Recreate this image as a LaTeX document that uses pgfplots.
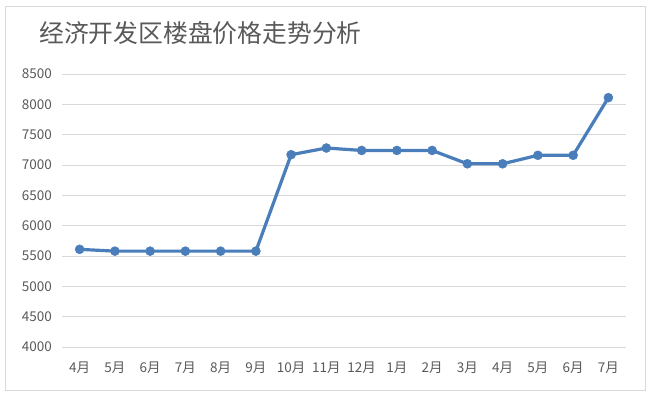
\documentclass[border=0pt]{standalone}
\usepackage{fontspec}
\setmainfont{Noto Sans CJK SC}
\usepackage{pgfplots}
\pgfplotsset{compat=1.18}
\definecolor{txt}{HTML}{595959}
\definecolor{gridc}{HTML}{D9D9D9}
\definecolor{linec}{HTML}{4A7EBB}
\begin{document}
\begin{tikzpicture}[x=1pt,y=1pt]
\useasboundingbox (0,0) rectangle (650,397);
\draw[gridc, line width=1pt] (5,7) rectangle (645,390);
\node[anchor=west, text=txt, font=\fontsize{24.8}{28}\selectfont, inner sep=0pt] at (39,364) {经济开发区楼盘价格走势分析};
\begin{axis}[
  at={(62pt,50pt)}, anchor=south west,
  scale only axis, width=564pt, height=273pt,
  xmin=-0.5, xmax=15.5, ymin=4000, ymax=8500,
  ytick={4000,4500,...,8500},
  xtick={0,...,15},
  xticklabels={4月,5月,6月,7月,8月,9月,10月,11月,12月,1月,2月,3月,4月,5月,6月,7月},
  axis line style={draw=none},
  major tick length=0pt,
  xmajorgrids=false,
  ymajorgrids=true,
  major grid style={draw=gridc, line width=1pt},
  /pgf/number format/assume math mode=true,
  /pgf/number format/1000 sep={},
  tick label style={text=txt, font=\fontsize{13.5}{15}\selectfont, inner sep=0pt},
  yticklabel style={anchor=east, xshift=-10pt},
  xticklabel style={anchor=center, yshift=-21pt},
  clip=false,
]
\addplot[linec, line width=3.2pt, mark=*, mark options={solid, line width=0.5pt, fill=linec, draw=linec, mark size=4.5pt}] coordinates {
(0,5610) (1,5580) (2,5580) (3,5580) (4,5580) (5,5580) (6,7170) (7,7280)
(8,7240) (9,7240) (10,7240) (11,7020) (12,7020) (13,7160) (14,7160) (15,8110)
};
\end{axis}
\end{tikzpicture}
\end{document}
